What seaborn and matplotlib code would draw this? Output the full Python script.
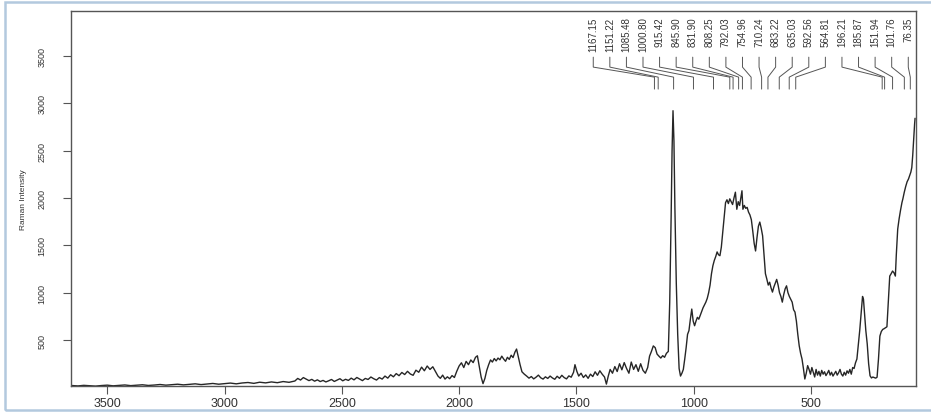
import numpy as np
import pandas as pd
import matplotlib
matplotlib.use("Agg")
import matplotlib.pyplot as plt
from matplotlib.patches import Rectangle
import seaborn as sns

# Raman spectrum (wavenumber in cm^-1, intensity in counts)
wavenumber = [
    3650, 3625, 3600, 3575, 3550, 3525, 3500, 3475, 3450, 3425, 3400, 3375, 3350, 3325,
    3300, 3275, 3250, 3225, 3200, 3175, 3150, 3125, 3100, 3075, 3050, 3025, 3000, 2975,
    2950, 2925, 2900, 2875, 2850, 2825, 2800, 2775, 2750, 2725, 2700,
    2688, 2676, 2664, 2652, 2640, 2628, 2616, 2604, 2592, 2580, 2568, 2556, 2544, 2532,
    2520, 2508, 2496, 2484, 2472, 2460, 2448, 2436, 2424, 2412, 2400, 2388, 2376, 2364,
    2352, 2340, 2328, 2316, 2304, 2292, 2280, 2268, 2256, 2244, 2232, 2220, 2208, 2196,
    2184, 2172, 2160, 2148, 2136, 2124, 2112, 2100, 2090, 2080, 2070, 2060, 2050, 2040,
    2030, 2020, 2010, 2000, 1990, 1980, 1970, 1960, 1950, 1940, 1930, 1922, 1914, 1906,
    1898, 1890, 1882, 1874, 1866, 1858, 1850, 1842, 1834, 1826, 1818, 1810, 1802, 1794,
    1786, 1778, 1770, 1762, 1755, 1748, 1740, 1732, 1722, 1712, 1702, 1692, 1682, 1672,
    1662, 1652, 1642, 1632, 1622, 1612, 1602, 1592, 1582, 1572, 1562, 1552, 1542, 1532,
    1522, 1512, 1506, 1498, 1490, 1480, 1470, 1460, 1450, 1440, 1430, 1420, 1410, 1400,
    1390, 1380, 1372, 1364, 1356, 1346, 1336, 1326, 1316, 1306, 1296, 1286, 1276, 1266,
    1256, 1246, 1236, 1226, 1216, 1206, 1196, 1188, 1180, 1172, 1164, 1156, 1148, 1140,
    1132, 1124, 1116, 1108, 1102, 1096, 1092, 1088, 1084, 1080, 1074, 1068, 1062, 1056,
    1050, 1044, 1038, 1032, 1026, 1020, 1014, 1008, 1002, 996, 990, 984, 978, 972,
    966, 960, 954, 948, 942, 936, 930, 924, 918, 912, 906, 900, 894, 888,
    882, 876, 870, 864, 858, 852, 846, 840, 834, 828, 822, 816, 810, 804,
    798, 794, 790, 784, 778, 772, 766, 760, 754, 748, 742, 736, 730, 724,
    718, 712, 706, 700, 694, 688, 682, 676, 670, 664, 658, 652, 646, 640,
    634, 628, 622, 616, 610, 604, 598, 592, 586, 580, 574, 568, 562, 556,
    550, 544, 538, 532, 526, 520, 514, 508, 502, 496, 490, 484, 478, 472,
    466, 460, 454, 448, 442, 436, 430, 424, 418, 412, 406, 400, 394, 388,
    382, 376, 370, 364, 358, 352, 346, 340, 334, 328, 322, 316, 310, 304,
    298, 292, 286, 280, 276, 272, 266, 260, 254, 248, 242, 236, 230, 224,
    218, 212, 206, 200, 194, 188, 182, 176, 170, 164, 158, 152, 146, 140,
    136, 130, 124, 118, 112, 108, 102, 96, 90, 84, 80, 74, 70, 66,
    62, 58, 56,
]
intensity = [
    20, 16, 22, 18, 14, 20, 24, 17, 21, 26, 19, 23, 28, 21,
    25, 31, 24, 29, 34, 27, 33, 38, 30, 36, 42, 34, 40, 46,
    38, 47, 52, 43, 55, 48, 58, 50, 62, 54, 68,
    95, 78, 104, 88, 72, 85, 66, 80, 62, 74, 58, 70, 84, 63,
    77, 92, 70, 86, 74, 98, 80, 105, 88, 72, 95, 84, 110, 92,
    78, 104, 88, 120, 98, 134, 112, 146, 124, 158, 136, 170, 142, 128,
    182, 160, 214, 176, 226, 190, 218, 165, 120, 96, 130, 88, 112, 92,
    125, 105, 170, 226, 260, 210, 275, 240, 290, 262, 318, 334, 220, 110,
    40, 95, 180, 240, 290, 268, 305, 280, 310, 292, 330, 300, 276, 318,
    296, 340, 315, 372, 405, 330, 240, 165, 140, 120, 98, 115, 90, 108,
    130, 102, 88, 112, 95, 120, 100, 86, 118, 96, 128, 104, 90, 122,
    108, 160, 240, 170, 120, 150, 105, 132, 96, 140, 115, 165, 128, 176,
    140, 110, 35, 120, 190, 150, 220, 168, 250, 186, 262, 200, 150, 268,
    190, 240, 170, 250, 180, 150, 210, 330, 380, 438, 420, 352, 330, 310,
    335, 318, 360, 380, 900, 1800, 2500, 2920, 2600, 1900, 1100, 560, 200, 120,
    150, 190, 300, 420, 560, 600, 720, 827, 700, 651, 700, 740, 720, 760,
    800, 840, 870, 900, 940, 1000, 1080, 1200, 1284, 1340, 1380, 1430, 1400, 1390,
    1480, 1640, 1800, 1950, 1980, 1940, 1990, 1960, 1930, 2000, 2060, 1880, 1960, 1920,
    2010, 2075, 1880, 1920, 1890, 1900, 1850, 1820, 1770, 1650, 1520, 1440, 1580, 1700,
    1745, 1680, 1600, 1400, 1200, 1143, 1080, 1110, 1050, 1006, 1060, 1100, 1140, 1080,
    1000, 960, 900, 980, 1040, 1072, 1000, 960, 930, 900, 820, 795, 700, 560,
    440, 360, 300, 200, 89, 150, 230, 190, 140, 210, 160, 110, 190, 130,
    170, 120, 180, 140, 165, 125, 150, 180, 130, 160, 120, 145, 170, 130,
    155, 190, 140, 120, 160, 130, 175, 150, 190, 140, 210, 200, 260, 300,
    450, 600, 780, 960, 930, 800, 600, 460, 250, 123, 100, 110, 104, 98,
    108, 300, 542, 590, 612, 620, 630, 640, 900, 1175, 1200, 1228, 1210, 1175,
    1400, 1671, 1780, 1870, 1950, 1990, 2060, 2120, 2170, 2200, 2230, 2272, 2320, 2450,
    2620, 2780, 2840,
]

# Annotated band positions (cm^-1)
peak_positions = [1167.15, 1151.22, 1085.48, 1000.80, 915.42, 845.90, 831.90, 808.25,
                  792.03, 754.96, 710.24, 683.22, 635.03, 592.56, 564.81, 196.21,
                  185.87, 151.94, 101.76, 76.35]
peak_labels = ["1167.15", "1151.22", "1085.48", "1000.80", "915.42", "845.90", "831.90",
               "808.25", "792.03", "754.96", "710.24", "683.22", "635.03", "592.56",
               "564.81", "196.21", "185.87", "151.94", "101.76", "76.35"]

x_ticks = [500, 1000, 1500, 2000, 2500, 3000, 3500]
y_ticks = [500, 1000, 1500, 2000, 2500, 3000, 3500]

spectrum = pd.DataFrame({"wavenumber": wavenumber, "intensity": intensity})

sns.set_style("white")
plt.rcParams["font.family"] = ["Liberation Sans", "DejaVu Sans"]

fig = plt.figure(figsize=(9.31, 4.14), dpi=100)
ax = fig.add_axes([0.0759, 0.0645, 0.9080, 0.9072])

sns.lineplot(data=spectrum, x="wavenumber", y="intensity", ax=ax, sort=False,
             estimator=None, color="#262626", linewidth=1.0)

ax.set_xlim(3656, 52)
ax.set_ylim(12, 3975)
ax.set_xticks(x_ticks)
ax.set_yticks(y_ticks)
ax.set_xlabel("")
ax.set_ylabel("Raman Intensity", fontsize=6, labelpad=8, color="#333333")

ax.tick_params(axis="x", direction="out", length=5.5, width=0.8, color="#555555",
               labelsize=9, pad=2.5, labelcolor="#333333", bottom=True)
ax.tick_params(axis="y", direction="out", length=5.5, width=0.8, color="#555555",
               labelsize=6.5, pad=15, labelcolor="#333333", left=True)
for lbl in ax.get_yticklabels():
    lbl.set_rotation(90)
    lbl.set_va("center")
    lbl.set_ha("center")

for side in ax.spines.values():
    side.set_color("#555555")
    side.set_linewidth(1.0)

# Staggered peak labels with leader lines down to each band
label_x = np.linspace(1428, 85, len(peak_positions))
for lx, pk, txt in zip(label_x, peak_positions, peak_labels):
    ax.text(lx, 3915, txt, rotation=90, ha="center", va="top", fontsize=7,
            color="#333333")
    ax.plot([lx, lx, pk, pk], [3485, 3380, 3274, 3148], color="#555555",
            linewidth=0.7, solid_joinstyle="miter")

# Window frame around the figure
fig.add_artist(Rectangle((5 / 931, 3 / 414), 1.1, 1 - 6 / 414,
                         transform=fig.transFigure, fill=False,
                         edgecolor="#b3c9de", linewidth=1.8))

fig.savefig("out.png", dpi=100, facecolor="white")
